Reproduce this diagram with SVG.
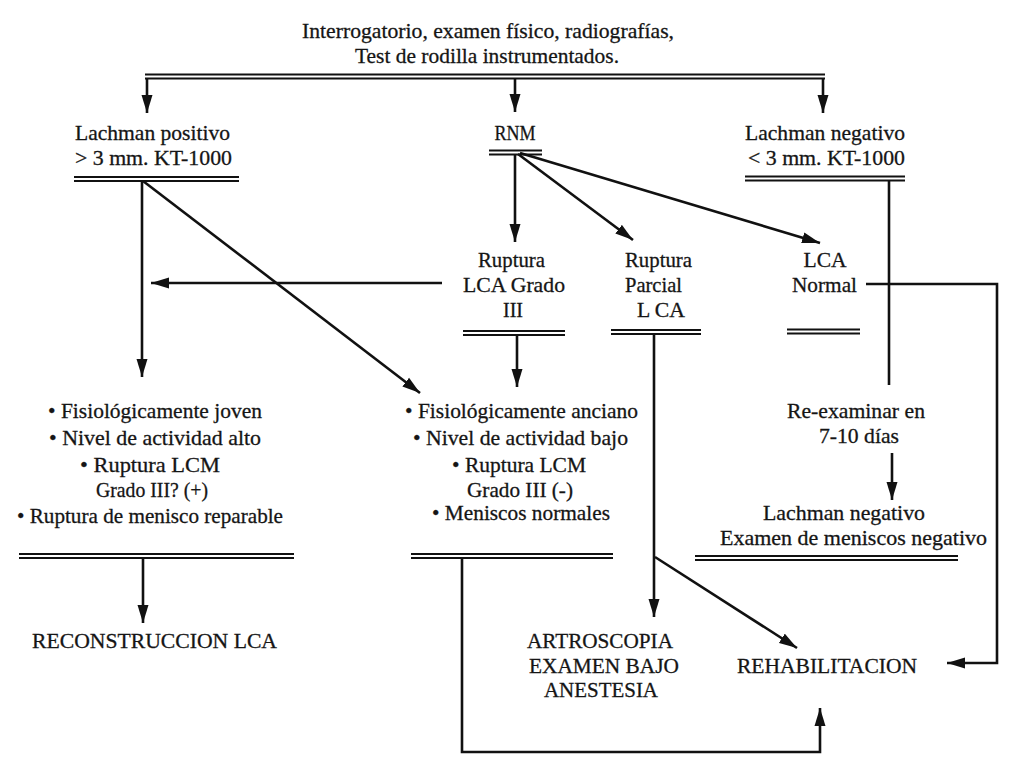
<svg xmlns="http://www.w3.org/2000/svg" width="1023" height="767" viewBox="0 0 1023 767">
<defs>
<marker id="ah" markerWidth="19" markerHeight="12" refX="18" refY="6" orient="auto" markerUnits="userSpaceOnUse">
<path d="M0,0.5 L18,6 L0,11.5 z" fill="#111"/>
</marker>
<style>
text{font-family:"Liberation Serif","Times New Roman",serif;font-size:22px;fill:#151515;stroke:#151515;stroke-width:0.3;text-anchor:middle}
.st{text-anchor:start}
.ln{stroke:#111;stroke-width:2.6;fill:none}
.bar{stroke:#111;stroke-width:2.2;fill:none}
.ar{marker-end:url(#ah)}
</style>
</defs>
<rect width="1023" height="767" fill="#fff"/>

<g id="connectors">
<path class="bar" d="M145,74.5H825M145,78.5H825"/>
<path class="ln ar" d="M147,78V113"/>
<path class="ln ar" d="M515,78V112"/>
<path class="ln ar" d="M823,78V113"/>
<path class="ln ar" d="M142,181V377"/>
<path class="ln ar" d="M143,181L420,393"/>
<path class="ln ar" d="M515,154V242"/>
<path class="ln ar" d="M518,154L633,240"/>
<path class="ln ar" d="M520,153L820,243"/>
<path class="ln" d="M889,180V385"/>
<path class="ln ar" d="M442,283H151"/>
<path class="ln ar" d="M517,335V387"/>
<path class="ln ar" d="M654,334V617"/>
<path class="ln ar" d="M655,557L797,648"/>
<path class="ln ar" d="M866,284H997V663H947"/>
<path class="ln ar" d="M892,453V500"/>
<path class="ln ar" d="M143,558V623"/>
<path class="ln ar" d="M462,558V752H820V708"/>
</g>

<g id="n-top">
<text x="488" y="38" textLength="372" lengthAdjust="spacingAndGlyphs">Interrogatorio, examen físico, radiografías,</text>
<text x="487" y="63" textLength="264" lengthAdjust="spacingAndGlyphs">Test de rodilla instrumentados.</text>
</g>

<g id="n-lachman-pos">
<text x="152.5" y="140" textLength="155" lengthAdjust="spacingAndGlyphs">Lachman positivo</text>
<text x="153.5" y="165" textLength="157" lengthAdjust="spacingAndGlyphs">&gt; 3 mm. KT-1000</text>
<path class="bar" d="M74,177H239M74,181H239"/>
</g>

<g id="n-rnm">
<text x="515" y="140" textLength="41" lengthAdjust="spacingAndGlyphs">RNM</text>
<path class="bar" d="M489,150.5H542M489,154.5H542"/>
</g>

<g id="n-lachman-neg">
<text x="825" y="140" textLength="160" lengthAdjust="spacingAndGlyphs">Lachman negativo</text>
<text x="826.5" y="165" textLength="157" lengthAdjust="spacingAndGlyphs">&lt; 3 mm. KT-1000</text>
<path class="bar" d="M745,176.5H905M745,180.5H905"/>
</g>

<g id="n-ruptura-g3">
<text x="511.5" y="267" textLength="67" lengthAdjust="spacingAndGlyphs">Ruptura</text>
<text x="514" y="292" textLength="102" lengthAdjust="spacingAndGlyphs">LCA Grado</text>
<text x="513" y="317" textLength="20" lengthAdjust="spacingAndGlyphs">III</text>
<path class="bar" d="M463,331H565M463,335H565"/>
</g>

<g id="n-ruptura-parcial">
<text class="st" x="625" y="267" textLength="67" lengthAdjust="spacingAndGlyphs">Ruptura</text>
<text class="st" x="625" y="292" textLength="57" lengthAdjust="spacingAndGlyphs">Parcial</text>
<text class="st" x="637" y="317" textLength="48" lengthAdjust="spacingAndGlyphs">L CA</text>
<path class="bar" d="M611,330H701M611,334H701"/>
</g>

<g id="n-lca-normal">
<text x="825" y="267" textLength="43" lengthAdjust="spacingAndGlyphs">LCA</text>
<text x="824.5" y="292" textLength="65" lengthAdjust="spacingAndGlyphs">Normal</text>
<path class="bar" d="M787,329.5H860M787,333.5H860"/>
</g>

<g id="n-joven">
<text x="155" y="418" textLength="214" lengthAdjust="spacingAndGlyphs">• Fisiológicamente joven</text>
<text x="155" y="445" textLength="212" lengthAdjust="spacingAndGlyphs">• Nivel de actividad alto</text>
<text x="150" y="472" textLength="140" lengthAdjust="spacingAndGlyphs">• Ruptura LCM</text>
<text x="152" y="497" textLength="112" lengthAdjust="spacingAndGlyphs">Grado III? (+)</text>
<text x="150" y="523" textLength="266" lengthAdjust="spacingAndGlyphs">• Ruptura de menisco reparable</text>
<path class="bar" d="M19,554H294M19,558H294"/>
</g>

<g id="n-anciano">
<text x="521.5" y="418" textLength="233" lengthAdjust="spacingAndGlyphs">• Fisiológicamente anciano</text>
<text x="520.5" y="445" textLength="215" lengthAdjust="spacingAndGlyphs">• Nivel de actividad bajo</text>
<text x="519" y="472" textLength="134" lengthAdjust="spacingAndGlyphs">• Ruptura LCM</text>
<text x="520" y="497" textLength="106" lengthAdjust="spacingAndGlyphs">Grado III (-)</text>
<text x="521" y="520" textLength="178" lengthAdjust="spacingAndGlyphs">• Meniscos normales</text>
<path class="bar" d="M411,554H613M411,558H613"/>
</g>

<g id="n-reexaminar">
<text x="856" y="418" textLength="138" lengthAdjust="spacingAndGlyphs">Re-examinar en</text>
<text x="859" y="443" textLength="80" lengthAdjust="spacingAndGlyphs">7-10 días</text>
</g>

<g id="n-lachman-neg2">
<text x="844" y="520" textLength="162" lengthAdjust="spacingAndGlyphs">Lachman negativo</text>
<text x="853.5" y="545" textLength="267" lengthAdjust="spacingAndGlyphs">Examen de meniscos negativo</text>
<path class="bar" d="M695,556H958M695,560H958"/>
</g>

<g id="n-reconstruccion">
<text x="154.5" y="648" textLength="245" lengthAdjust="spacingAndGlyphs">RECONSTRUCCION LCA</text>
</g>

<g id="n-artroscopia">
<text x="600" y="648" textLength="146" lengthAdjust="spacingAndGlyphs">ARTROSCOPIA</text>
<text x="604" y="673" textLength="150" lengthAdjust="spacingAndGlyphs">EXAMEN BAJO</text>
<text x="601" y="697" textLength="114" lengthAdjust="spacingAndGlyphs">ANESTESIA</text>
</g>

<g id="n-rehabilitacion">
<text x="827" y="673" textLength="180" lengthAdjust="spacingAndGlyphs">REHABILITACION</text>
</g>
</svg>
